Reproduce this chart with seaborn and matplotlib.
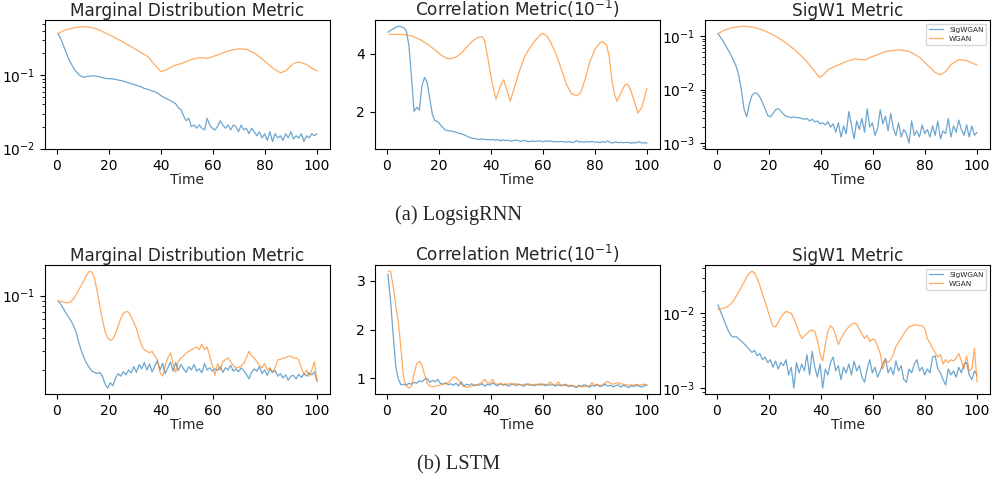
import numpy as np
import matplotlib
matplotlib.use("Agg")
import matplotlib.pyplot as plt
import matplotlib.ticker as mticker
import seaborn as sns

# ---- data ----
# (a) LogsigRNN, marginal metric
t_grid = np.linspace(0.5, 100, 100)
rnn_marg_sig = [0.37, 0.32, 0.26, 0.21, 0.17, 0.145, 0.125, 0.112, 0.102, 0.096,
                0.094, 0.096, 0.097, 0.098, 0.098, 0.097, 0.095, 0.093, 0.091, 0.090,
                0.090, 0.089, 0.088, 0.086, 0.085, 0.083, 0.081, 0.079, 0.077, 0.075,
                0.073, 0.071, 0.069, 0.066, 0.065, 0.063, 0.061, 0.060, 0.057, 0.054,
                0.051, 0.049, 0.047, 0.045, 0.043, 0.041, 0.036, 0.034, 0.028, 0.024,
                0.026, 0.020, 0.021, 0.019, 0.021, 0.019, 0.018, 0.026, 0.021, 0.019,
                0.018, 0.020, 0.024, 0.021, 0.019, 0.021, 0.018, 0.021, 0.020, 0.017,
                0.021, 0.018, 0.019, 0.016, 0.019, 0.017, 0.015, 0.017, 0.014, 0.016,
                0.013, 0.017, 0.0125, 0.016, 0.014, 0.015, 0.013, 0.016, 0.014, 0.017,
                0.0135, 0.015, 0.014, 0.016, 0.0125, 0.015, 0.014, 0.016, 0.015, 0.016]
rnn_marg_wgan_t = [0.5, 3, 6, 10, 13, 16, 20, 25, 30, 35, 38, 40, 42, 45, 48, 52, 55, 58,
                   62, 66, 70, 73, 76, 80, 83, 86, 88, 91, 93, 96, 98, 100]
rnn_marg_wgan = [0.37, 0.41, 0.44, 0.46, 0.45, 0.42, 0.36, 0.29, 0.23, 0.18, 0.135, 0.112,
                 0.118, 0.135, 0.145, 0.165, 0.174, 0.17, 0.19, 0.215, 0.23, 0.225, 0.2,
                 0.155, 0.125, 0.108, 0.115, 0.145, 0.152, 0.14, 0.125, 0.115]

# (a) LogsigRNN, correlation metric (x 10^-1)
rnn_corr_sig = [4.74, 4.80, 4.86, 4.91, 4.95, 4.94, 4.90, 4.80, 4.30, 3.20,
                2.00, 2.15, 2.05, 2.90, 3.18, 3.00, 2.45, 1.90, 1.68, 1.66,
                1.55, 1.45, 1.36, 1.34, 1.33, 1.31, 1.29, 1.25, 1.24, 1.20,
                1.16, 1.12, 1.08, 1.07, 1.05, 1.04, 1.06, 1.03, 1.04, 1.02,
                1.04, 1.01, 1.03, 0.99, 1.02, 1.00, 1.01, 0.98, 1.00, 1.02,
                0.99, 0.97, 1.01, 0.98, 0.96, 0.99, 0.97, 0.98, 0.99, 0.96,
                0.98, 0.97, 0.99, 0.96, 0.97, 0.95, 0.97, 0.96, 0.94, 0.96,
                0.95, 0.93, 1.00, 0.95, 0.96, 0.94, 0.96, 0.95, 0.97, 0.94,
                0.95, 0.93, 0.96, 0.94, 0.99, 0.93, 0.92, 0.95, 0.93, 0.94,
                0.92, 0.94, 0.93, 0.91, 0.93, 0.92, 0.96, 0.91, 0.93, 0.91]
rnn_corr_wgan_t = [1, 4, 7, 10, 13, 16, 19, 21, 23, 25, 27, 29, 31, 33, 35, 36.5, 37.5, 39,
                   40.5, 42, 43, 44, 45, 46, 47.5, 49, 51, 53, 55, 57, 59, 60, 61.5, 63, 65,
                   67, 69, 71, 73, 74.5, 76, 78, 80, 82, 83, 84.5, 85.5, 86.5, 87.5, 88.5,
                   90, 91.5, 92.5, 93.5, 95, 96.5, 98, 100]
rnn_corr_wgan = [4.67, 4.67, 4.66, 4.60, 4.48, 4.31, 4.10, 3.95, 3.84, 3.83, 3.90, 4.05,
                 4.25, 4.44, 4.56, 4.59, 4.50, 3.80, 3.00, 2.42, 2.70, 2.95, 3.10, 2.80,
                 2.36, 2.80, 3.40, 3.90, 4.20, 4.45, 4.65, 4.70, 4.62, 4.40, 4.00, 3.50,
                 2.95, 2.62, 2.55, 2.65, 3.05, 3.70, 4.15, 4.38, 4.42, 4.30, 3.90, 3.10,
                 2.60, 2.36, 2.65, 2.92, 2.95, 2.80, 2.40, 1.95, 2.15, 2.80]

# (a) LogsigRNN, SigW1 metric
rnn_sigw_sig = [0.112, 0.095, 0.08, 0.066, 0.054, 0.044, 0.035, 0.027, 0.018, 0.0095,
                0.0042, 0.0031, 0.0055, 0.0078, 0.0087, 0.0085, 0.0073, 0.0058, 0.0044, 0.0033,
                0.0031, 0.0036, 0.0042, 0.0044, 0.0040, 0.0035, 0.0032, 0.0031, 0.0030, 0.0031,
                0.0030, 0.0030, 0.0029, 0.0028, 0.0029, 0.0026, 0.0028, 0.0025, 0.0026, 0.0023,
                0.0024, 0.0022, 0.0025, 0.0020, 0.0023, 0.0016, 0.0024, 0.0013, 0.0021, 0.0015,
                0.0039, 0.0022, 0.0012, 0.0026, 0.0018, 0.0029, 0.0016, 0.0044, 0.0020, 0.0024,
                0.0014, 0.0019, 0.0042, 0.0023, 0.0032, 0.0017, 0.0036, 0.0019, 0.0014, 0.0024,
                0.0013, 0.0018, 0.0015, 0.0010, 0.0026, 0.0014, 0.0017, 0.0013, 0.0022, 0.0015,
                0.0018, 0.0013, 0.0021, 0.0014, 0.0026, 0.0012, 0.0017, 0.0015, 0.0029, 0.0013,
                0.0021, 0.0016, 0.0027, 0.0018, 0.0014, 0.0022, 0.0013, 0.0021, 0.0014, 0.0016]
rnn_sigw_wgan_t = [0.5, 3, 6, 10, 14, 18, 22, 26, 30, 34, 37, 39.5, 41, 43, 46, 50, 53, 57,
                   60, 65, 70, 74, 78, 82, 84, 86, 88, 90, 93, 96, 100]
rnn_sigw_wgan = [0.112, 0.13, 0.145, 0.154, 0.148, 0.129, 0.104, 0.079, 0.0556, 0.0365,
                 0.024, 0.017, 0.019, 0.024, 0.028, 0.034, 0.0375, 0.036, 0.042, 0.052,
                 0.0556, 0.052, 0.040, 0.0257, 0.0209, 0.019, 0.022, 0.0296, 0.0365, 0.035,
                 0.0288]

# (b) LSTM, marginal metric
lstm_marg_sig = [0.089, 0.084, 0.076, 0.069, 0.063, 0.058, 0.052, 0.045, 0.036, 0.030,
                 0.026, 0.023, 0.021, 0.0195, 0.019, 0.0185, 0.019, 0.0175, 0.0148, 0.0135,
                 0.0152, 0.0142, 0.0168, 0.0185, 0.0175, 0.0192, 0.0180, 0.0200, 0.0188, 0.0215,
                 0.0190, 0.0225, 0.0205, 0.0235, 0.0200, 0.0228, 0.0192, 0.0218, 0.0245, 0.0200,
                 0.0232, 0.0185, 0.0210, 0.0238, 0.0195, 0.0235, 0.0198, 0.0225, 0.0205, 0.0190,
                 0.0215, 0.0200, 0.0225, 0.0195, 0.0205, 0.0188, 0.0230, 0.0200, 0.0210, 0.0195,
                 0.0205, 0.0198, 0.0215, 0.0190, 0.0210, 0.0200, 0.0222, 0.0195, 0.0205, 0.0192,
                 0.0210, 0.0198, 0.0182, 0.0165, 0.0190, 0.0205, 0.0195, 0.0215, 0.0185, 0.0200,
                 0.0178, 0.0205, 0.0190, 0.0198, 0.0175, 0.0185, 0.0168, 0.0180, 0.0160, 0.0175,
                 0.0178, 0.0165, 0.0182, 0.0170, 0.0185, 0.0175, 0.0188, 0.0180, 0.0192, 0.0158]
lstm_marg_wgan = [0.089, 0.089, 0.087, 0.086, 0.086, 0.088, 0.094, 0.103, 0.114, 0.126,
                  0.140, 0.157, 0.170, 0.166, 0.145, 0.110, 0.080, 0.060, 0.046, 0.040,
                  0.038, 0.039, 0.044, 0.052, 0.061, 0.068, 0.071, 0.070, 0.063, 0.056,
                  0.049, 0.040, 0.034, 0.031, 0.030, 0.029, 0.030, 0.027, 0.025, 0.019,
                  0.0175, 0.022, 0.026, 0.029, 0.023, 0.019, 0.024, 0.026, 0.027, 0.029,
                  0.030, 0.031, 0.032, 0.033, 0.031, 0.035, 0.031, 0.033, 0.027, 0.022,
                  0.0178, 0.023, 0.020, 0.024, 0.025, 0.026, 0.024, 0.022, 0.021, 0.021,
                  0.022, 0.023, 0.026, 0.030, 0.027, 0.026, 0.024, 0.022, 0.021, 0.023,
                  0.020, 0.021, 0.019, 0.021, 0.025, 0.025, 0.026, 0.026, 0.027, 0.027,
                  0.026, 0.026, 0.025, 0.021, 0.018, 0.020, 0.0175, 0.020, 0.024, 0.0155]

# (b) LSTM, correlation metric (x 10^-1)
lstm_corr_sig = [3.14, 2.60, 1.90, 1.25, 0.98, 0.87, 0.88, 0.86, 0.90, 0.88,
                 0.92, 0.90, 0.95, 0.93, 0.98, 1.00, 0.92, 0.96, 0.93, 0.98,
                 0.90, 0.88, 0.91, 0.87, 0.89, 0.86, 0.90, 0.85, 0.93, 0.84,
                 0.88, 0.86, 0.89, 0.85, 0.87, 0.86, 0.89, 0.84, 0.88, 0.86,
                 0.91, 0.87, 0.85, 0.89, 0.86, 0.88, 0.84, 0.87, 0.89, 0.85,
                 0.88, 0.86, 0.84, 0.89, 0.86, 0.87, 0.85, 0.88, 0.86, 0.89,
                 0.85, 0.87, 0.86, 0.88, 0.84, 0.87, 0.85, 0.86, 0.88, 0.83,
                 0.86, 0.84, 0.81, 0.86, 0.83, 0.87, 0.85, 0.82, 0.86, 0.84,
                 0.87, 0.83, 0.85, 0.88, 0.84, 0.86, 0.83, 0.85, 0.87, 0.82,
                 0.86, 0.84, 0.81, 0.85, 0.83, 0.86, 0.84, 0.82, 0.85, 0.86]
lstm_corr_wgan = [3.20, 3.20, 2.90, 2.50, 2.15, 1.60, 1.00, 0.85, 0.80, 0.84,
                  1.10, 1.30, 1.35, 1.28, 1.08, 0.90, 0.84, 0.83, 0.84, 0.85,
                  0.86, 0.88, 0.89, 0.91, 0.96, 1.03, 1.02, 0.96, 0.88, 0.84,
                  0.82, 0.82, 0.84, 0.86, 0.87, 0.89, 0.92, 0.98, 0.91, 0.90,
                  0.98, 0.89, 0.88, 0.90, 0.87, 0.89, 0.88, 0.90, 0.87, 0.89,
                  0.88, 0.86, 0.88, 0.87, 0.89, 0.86, 0.88, 0.87, 0.89, 0.86,
                  0.88, 0.87, 0.93, 0.87, 0.86, 0.93, 0.87, 0.86, 0.85, 0.86,
                  0.84, 0.85, 0.83, 0.84, 0.83, 0.84, 0.83, 0.85, 0.91, 0.86,
                  0.88, 0.85, 0.87, 0.91, 0.94, 0.90, 0.88, 0.90, 0.91, 0.89,
                  0.88, 0.87, 0.86, 0.87, 0.86, 0.88, 0.86, 0.87, 0.88, 0.87]

# (b) LSTM, SigW1 metric
lstm_sigw_sig = [0.0129, 0.0105, 0.0086, 0.0070, 0.0058, 0.0050, 0.0048, 0.0049, 0.0045, 0.0042,
                 0.0039, 0.0036, 0.0033, 0.0030, 0.0032, 0.0027, 0.0029, 0.0024, 0.0026, 0.0022,
                 0.0024, 0.0019, 0.0023, 0.0018, 0.0022, 0.0020, 0.0024, 0.0015, 0.0019, 0.0010,
                 0.0022, 0.0016, 0.0021, 0.0017, 0.0028, 0.0015, 0.0031, 0.0019, 0.0014, 0.0021,
                 0.0010, 0.0018, 0.0015, 0.0022, 0.0026, 0.0017, 0.0020, 0.0013, 0.0019, 0.0016,
                 0.0021, 0.0015, 0.0023, 0.0017, 0.0020, 0.0014, 0.0012, 0.0018, 0.0024, 0.0016,
                 0.0019, 0.0014, 0.0017, 0.0021, 0.0025, 0.0016, 0.0019, 0.0015, 0.0023, 0.0017,
                 0.0020, 0.0013, 0.0012, 0.0018, 0.0016, 0.0021, 0.0024, 0.0017, 0.0019, 0.0015,
                 0.0018, 0.0016, 0.0026, 0.0027, 0.0018, 0.0016, 0.0013, 0.0011, 0.0018, 0.0015,
                 0.0017, 0.0014, 0.0019, 0.0016, 0.0021, 0.0022, 0.0015, 0.0013, 0.0017, 0.0015]
lstm_sigw_wgan = [0.0114, 0.0114, 0.0116, 0.0120, 0.0125, 0.0135, 0.0148, 0.0170, 0.0195, 0.0225,
                  0.0262, 0.0305, 0.0345, 0.0365, 0.0345, 0.0290, 0.0235, 0.0180, 0.0142, 0.0110,
                  0.0085, 0.0067, 0.0066, 0.0075, 0.0088, 0.0098, 0.0106, 0.0103, 0.0100, 0.0085,
                  0.0070, 0.0055, 0.0046, 0.0050, 0.0054, 0.0058, 0.0060, 0.0057, 0.0043, 0.0029,
                  0.0023, 0.0038, 0.0058, 0.0068, 0.0063, 0.0051, 0.0038, 0.0046, 0.0053, 0.0060,
                  0.0066, 0.0071, 0.0074, 0.0072, 0.0061, 0.0053, 0.0046, 0.0051, 0.0042, 0.0045,
                  0.0044, 0.0036, 0.0029, 0.0018, 0.0024, 0.0022, 0.0024, 0.0028, 0.0036, 0.0041,
                  0.0046, 0.0053, 0.0060, 0.0066, 0.0068, 0.0070, 0.0070, 0.0068, 0.0068, 0.0063,
                  0.0046, 0.0040, 0.0034, 0.0030, 0.0026, 0.0028, 0.0021, 0.0024, 0.0022, 0.0024,
                  0.0023, 0.0025, 0.0029, 0.0023, 0.0018, 0.0027, 0.0017, 0.0018, 0.0034, 0.0012]

titles = ["Marginal Distribution Metric", r"Correlation Metric($10^{-1}$)", "SigW1 Metric"]
series_names = ["SigWGAN", "WGAN"]
captions = ["(a) LogsigRNN", "(b) LSTM"]

panels = [
    [(t_grid, rnn_marg_sig, rnn_marg_wgan_t, rnn_marg_wgan, True),
     (t_grid, rnn_corr_sig, rnn_corr_wgan_t, rnn_corr_wgan, False),
     (t_grid, rnn_sigw_sig, rnn_sigw_wgan_t, rnn_sigw_wgan, True)],
    [(t_grid, lstm_marg_sig, t_grid, lstm_marg_wgan, True),
     (t_grid, lstm_corr_sig, t_grid, lstm_corr_wgan, False),
     (t_grid, lstm_sigw_sig, t_grid, lstm_sigw_wgan, True)],
]

sns.set_style("ticks", {"axes.edgecolor": "black", "xtick.color": "black",
                        "ytick.color": "black"})
plt.rcParams['font.family'] = ['DejaVu Sans']

fig = plt.figure(figsize=(9.93, 4.8), dpi=100)
lefts = [0.0453, 0.3776, 0.71]
bottoms = [0.6896, 0.1792]
w, h = 0.287, 0.268
colors = ["#1f77b4", "#ff7f0e"]

for r in range(2):
    for c in range(3):
        ax = fig.add_axes([lefts[c], bottoms[r], w, h])
        x1, y1, x2, y2, logy = panels[r][c]
        sns.lineplot(x=x1, y=y1, ax=ax, color=colors[0], lw=0.9, alpha=0.65,
                     label=series_names[0], estimator=None, sort=False)
        sns.lineplot(x=x2, y=y2, ax=ax, color=colors[1], lw=0.9, alpha=0.65,
                     label=series_names[1], estimator=None, sort=False)
        if logy:
            ax.set_yscale("log")
            ax.yaxis.set_minor_formatter(mticker.NullFormatter())
        if r == 0 and c == 0:
            ax.set_ylim(0.0099, 0.56)
        ax.set_xticks([0, 20, 40, 60, 80, 100])
        ax.tick_params(labelsize=10, direction="out")
        ax.set_xlabel("Time", fontsize=10, labelpad=0)
        ax.set_ylabel("")
        ax.set_title(titles[c], fontsize=12.2, pad=1 if r == 0 else 2)
        if c == 2:
            ax.legend(loc="upper right", fontsize=5.2, handlelength=2,
                      borderpad=0.4, labelspacing=0.4, framealpha=0.8)
        else:
            ax.get_legend().remove()

fig.text(0.462, 0.552, captions[0], ha="center", va="center",
         fontsize=14.7, family="Liberation Serif")
fig.text(0.462, 0.031, captions[1], ha="center", va="center",
         fontsize=14.7, family="Liberation Serif")

fig.savefig("out.png", dpi=100)
